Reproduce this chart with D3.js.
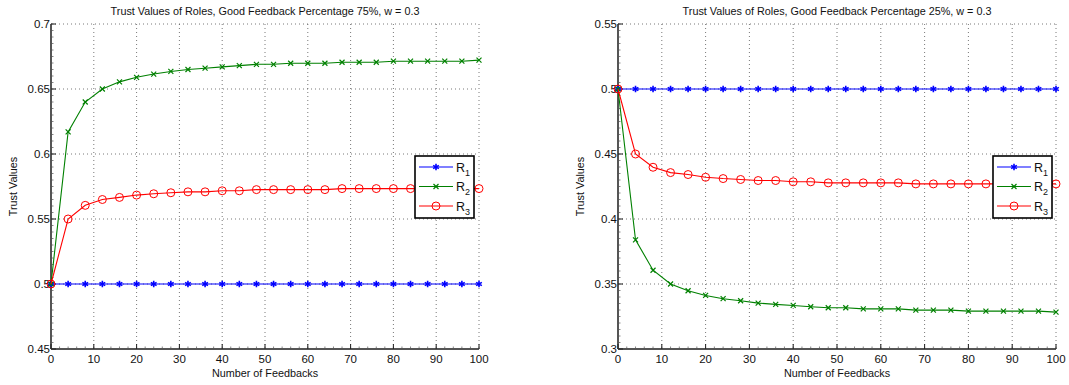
<!DOCTYPE html>
<html>
<head>
<meta charset="utf-8">
<script src="https://cdn.jsdelivr.net/npm/d3@7"></script>
<style>
  body { margin:0; background:#fff; }
  svg { display:block; font-family:"Liberation Sans", Arial, Helvetica, sans-serif; }
</style>
</head>
<body>
<div id="chart"></div>
<script>
// number of feedbacks (x) and tick labels
var feedbacks = [0,4,8,12,16,20,24,28,32,36,40,44,48,52,56,60,64,68,72,76,80,84,88,92,96,100];
var xTicks = [0,10,20,30,40,50,60,70,80,90,100];
var leftYTicks = [0.45,0.5,0.55,0.6,0.65,0.7];
var rightYTicks = [0.3,0.35,0.4,0.45,0.5,0.55];
var roles = ['R1','R2','R3'];

// good feedback 75%
var leftR1 = [0.5,0.5,0.5,0.5,0.5,0.5,0.5,0.5,0.5,0.5,0.5,0.5,0.5,0.5,0.5,0.5,0.5,0.5,0.5,0.5,0.5,0.5,0.5,0.5,0.5,0.5];
var leftR2 = [0.5,0.617,0.640,0.650,0.6555,0.659,0.6615,0.6635,0.665,0.666,0.667,0.668,0.669,0.669,0.6698,0.6698,0.6698,0.6706,0.6706,0.6706,0.6714,0.6714,0.6714,0.6714,0.6714,0.6722];
var leftR3 = [0.5,0.550,0.5605,0.565,0.5666,0.5684,0.5694,0.5702,0.5709,0.5709,0.5717,0.5717,0.5726,0.5726,0.5726,0.5726,0.5726,0.5734,0.5734,0.5734,0.5734,0.5734,0.5734,0.5734,0.5734,0.5734];

// good feedback 25%
var rightR1 = [0.5,0.5,0.5,0.5,0.5,0.5,0.5,0.5,0.5,0.5,0.5,0.5,0.5,0.5,0.5,0.5,0.5,0.5,0.5,0.5,0.5,0.5,0.5,0.5,0.5,0.5];
var rightR2 = [0.5,0.384,0.3606,0.350,0.3448,0.3412,0.3387,0.3371,0.3353,0.3343,0.3335,0.3325,0.3317,0.3317,0.3309,0.3309,0.3309,0.3299,0.3299,0.3299,0.3291,0.3291,0.3291,0.3291,0.3291,0.3284];
var rightR3 = [0.5,0.450,0.4398,0.4357,0.4342,0.4321,0.4311,0.4304,0.4296,0.4296,0.4286,0.4286,0.4278,0.4278,0.4278,0.4278,0.4278,0.4270,0.4270,0.4270,0.4270,0.4270,0.4270,0.4270,0.4270,0.4270];

var colors = {R1:'#0000ff', R2:'#008000', R3:'#ff0000'};

var svg = d3.select('#chart').append('svg')
  .attr('width', 1069)
  .attr('height', 385);

function markerPath(role){
  if (role == 'R1') return d3.symbol().type(d3.symbolAsterisk).size(30)();
  if (role == 'R2') return 'M-2.5,-2.5L2.5,2.5M-2.5,2.5L2.5,-2.5';
  return null;
}

function drawMarker(g, role, x, y){
  if (role == 'R3') {
    g.append('circle')
      .attr('cx', x).attr('cy', y).attr('r', 4)
      .attr('fill', 'none')
      .attr('stroke', colors[role])
      .attr('stroke-width', 1);
  } else {
    g.append('path')
      .attr('d', markerPath(role))
      .attr('transform', 'translate(' + x + ',' + y + ')')
      .attr('fill', 'none')
      .attr('stroke', colors[role])
      .attr('stroke-width', role == 'R1' ? 1.6 : 1.2);
  }
}

function panel(config){
  var g = svg.append('g');
  var x = d3.scaleLinear().domain([0,100]).range([config.left, config.right]);
  var y = d3.scaleLinear().domain(config.yDomain).range([config.bottom, config.top]);

  // dotted grid
  g.selectAll('line.vgrid').data(xTicks.slice(1))
    .enter().append('line')
    .attr('x1', function(d){return x(d)}).attr('x2', function(d){return x(d)})
    .attr('y1', config.top).attr('y2', config.bottom)
    .attr('stroke', '#555').attr('stroke-width', 0.8)
    .attr('stroke-dasharray', '1,3');
  g.selectAll('line.hgrid').data(config.yTicks.slice(1))
    .enter().append('line')
    .attr('x1', config.left).attr('x2', config.right)
    .attr('y1', function(d){return y(d)}).attr('y2', function(d){return y(d)})
    .attr('stroke', '#555').attr('stroke-width', 0.8)
    .attr('stroke-dasharray', '1,3');

  // minor ticks on the axes
  var yMinor = d3.range(config.yDomain[0], config.yDomain[1] + 1e-9, 0.005);
  g.selectAll('line.yminor').data(yMinor)
    .enter().append('line')
    .attr('x1', config.left).attr('x2', config.left + 2.5)
    .attr('y1', function(d){return y(d)}).attr('y2', function(d){return y(d)})
    .attr('stroke', '#666').attr('stroke-width', 0.8);
  var xMinor = d3.range(0, 101, 2);
  g.selectAll('line.xminor').data(xMinor)
    .enter().append('line')
    .attr('x1', function(d){return x(d)}).attr('x2', function(d){return x(d)})
    .attr('y1', config.bottom).attr('y2', config.bottom - 2.5)
    .attr('stroke', '#666').attr('stroke-width', 0.8);

  // axes lines
  g.append('line')
    .attr('x1', config.left).attr('x2', config.left)
    .attr('y1', config.top).attr('y2', config.bottom)
    .attr('stroke', '#555').attr('stroke-width', 2);
  g.append('line')
    .attr('x1', config.left).attr('x2', config.right)
    .attr('y1', config.bottom).attr('y2', config.bottom)
    .attr('stroke', '#555').attr('stroke-width', 2);

  // major ticks
  g.selectAll('line.ymajor').data(config.yTicks)
    .enter().append('line')
    .attr('x1', config.left).attr('x2', config.left + 5)
    .attr('y1', function(d){return y(d)}).attr('y2', function(d){return y(d)})
    .attr('stroke', '#222').attr('stroke-width', 1);
  g.selectAll('line.xmajor').data(xTicks)
    .enter().append('line')
    .attr('x1', function(d){return x(d)}).attr('x2', function(d){return x(d)})
    .attr('y1', config.bottom).attr('y2', config.bottom - 5)
    .attr('stroke', '#222').attr('stroke-width', 1);

  // tick labels
  g.selectAll('text.ylab').data(config.yTicks)
    .enter().append('text')
    .attr('x', config.left - 1)
    .attr('y', function(d){return y(d) + 4})
    .attr('text-anchor', 'end')
    .attr('font-size', '11.5px')
    .attr('fill', '#111')
    .text(function(d){return String(d)});
  g.selectAll('text.xlab').data(xTicks)
    .enter().append('text')
    .attr('x', function(d){return x(d)})
    .attr('y', config.bottom + 14)
    .attr('text-anchor', 'middle')
    .attr('font-size', '11.5px')
    .attr('fill', '#111')
    .text(function(d){return String(d)});

  // titles
  g.append('text')
    .attr('x', (config.left + config.right)/2).attr('y', 15)
    .attr('text-anchor', 'middle').attr('font-size', '10.8px').attr('fill', '#111')
    .text(config.title);
  g.append('text')
    .attr('x', (config.left + config.right)/2).attr('y', 377)
    .attr('text-anchor', 'middle').attr('font-size', '10.8px').attr('fill', '#111')
    .text('Number of Feedbacks');
  g.append('text')
    .attr('transform', 'translate(' + config.yLabelX + ',' + ((config.top + config.bottom)/2) + ') rotate(-90)')
    .attr('text-anchor', 'middle').attr('font-size', '10.8px').attr('fill', '#111')
    .text('Trust Values');

  var line = d3.line()
    .x(function(d){return x(d[0])})
    .y(function(d){return y(d[1])});

  config.series.forEach(function(s){
    var pts = feedbacks.map(function(f, i){return [f, s.values[i]]});
    g.append('path')
      .datum(pts)
      .attr('d', line)
      .attr('fill', 'none')
      .attr('stroke', colors[s.role])
      .attr('stroke-width', 1.1);
    var mg = g.append('g');
    pts.forEach(function(p){
      drawMarker(mg, s.role, x(p[0]), y(p[1]));
    });
  });

  // legend
  var lg = g.append('g');
  lg.append('rect')
    .attr('x', config.legend[0]).attr('y', config.legend[1])
    .attr('width', config.legend[2]).attr('height', config.legend[3])
    .attr('fill', '#fff').attr('stroke', '#000').attr('stroke-width', 1.6);
  roles.forEach(function(r, i){
    var ly = config.legend[1] + 11 + i*19.5;
    var lx = config.legend[0] + 4;
    lg.append('line')
      .attr('x1', lx).attr('x2', lx + 34)
      .attr('y1', ly).attr('y2', ly)
      .attr('stroke', colors[r]).attr('stroke-width', 1.1);
    drawMarker(lg, r, lx + 17, ly);
    var t = lg.append('text')
      .attr('x', lx + 37).attr('y', ly + 4.5)
      .attr('font-size', '12.5px').attr('fill', '#111');
    t.append('tspan').text('R');
    t.append('tspan').attr('dy', 4).attr('font-size', '9px').text(r.slice(1));
  });
}

panel({
  left:51, right:479, top:24, bottom:349,
  yDomain:[0.45,0.7], yTicks:leftYTicks, yLabelX:17,
  title:'Trust Values of Roles, Good Feedback Percentage 75%, w = 0.3',
  legend:[415,156,59,62],
  series:[{role:'R1', values:leftR1},{role:'R2', values:leftR2},{role:'R3', values:leftR3}]
});

panel({
  left:618, right:1056, top:24, bottom:349,
  yDomain:[0.3,0.55], yTicks:rightYTicks, yLabelX:584,
  title:'Trust Values of Roles, Good Feedback Percentage 25%, w = 0.3',
  legend:[993,156,59,62],
  series:[{role:'R1', values:rightR1},{role:'R2', values:rightR2},{role:'R3', values:rightR3}]
});
</script>
</body>
</html>
